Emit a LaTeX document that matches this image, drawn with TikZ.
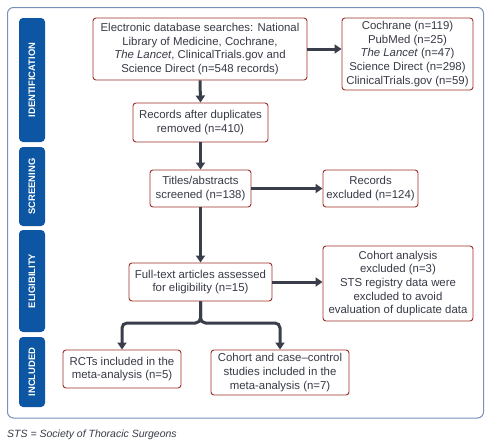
\documentclass[tikz,border=0pt]{standalone}
\usepackage{fontspec}
\setmainfont{Liberation Sans}
\usetikzlibrary{arrows.meta}
\definecolor{txt}{RGB}{55,58,70}
\definecolor{bred}{RGB}{158,48,42}
\definecolor{sideblue}{RGB}{12,86,164}
\definecolor{framec}{RGB}{120,145,185}
\definecolor{arr}{RGB}{58,62,74}
\begin{document}
\begin{tikzpicture}[x=1pt,y=-1pt,
 box/.style={draw=bred, line width=0.9pt, rounded corners=3pt, fill=white, text=txt, align=center, inner sep=0pt, font=\fontsize{11.4}{13.7}\selectfont},
 side/.style={fill=sideblue, rounded corners=4pt, text=white, rotate=90, inner sep=0pt, minimum height=26pt, font=\bfseries\fontsize{9.4}{12}\selectfont},
 flow/.style={draw=arr, line width=3pt, -{Triangle[length=7pt,width=9pt]}},
]
\useasboundingbox (0,0) rectangle (491,447);
\draw[framec, line width=1pt, rounded corners=6pt] (7.5,7.5) rectangle (483.5,418);

\node[side, minimum width=124pt] (s1) at (32,80) {IDENTIFICATION};
\node[side, minimum width=79pt] (s2) at (32,186.5) {SCREENING};
\node[side, minimum width=102pt] (s3) at (32,281) {ELIGIBILITY};
\node[side, minimum width=70pt] (s4) at (32,372) {INCLUDED};

\node[box, minimum width=214pt, minimum height=62pt] (b1) at (200,49)
 {Electronic database searches: National\\Library of Medicine, Cochrane,\\\textit{The Lancet}, ClinicalTrials.gov and\\Science Direct (n=548 records)};
\node[box, minimum width=131pt, minimum height=72pt] (b2) at (407.5,54)
 {Cochrane (n=119)\\PubMed (n=25)\\\textit{The Lancet} (n=47)\\Science Direct (n=298)\\ClinicalTrials.gov (n=59)};
\node[box, minimum width=135pt, minimum height=39pt] (b3) at (200.5,122.5)
 {Records after duplicates\\removed (n=410)};
\node[box, minimum width=101pt, minimum height=37pt] (b4) at (200.5,188.5)
 {Titles/abstracts\\screened (n=138)};
\node[box, minimum width=95pt, minimum height=37pt] (b5) at (370.5,188.5)
 {Records\\excluded (n=124)};
\node[box, minimum width=143pt, minimum height=38pt] (b6) at (200.5,282)
 {Full-text articles assessed\\for eligibility (n=15)};
\node[box, minimum width=150pt, minimum height=75pt] (b7) at (398,283.5)
 {Cohort analysis\\excluded (n=3)\\STS registry data were\\excluded to avoid\\evaluation of duplicate data};
\node[box, minimum width=118pt, minimum height=38pt] (b8) at (122,369)
 {RCTs included in the\\meta-analysis (n=5)};
\node[box, minimum width=138pt, minimum height=45pt] (b9) at (280,372.5)
 {Cohort and case--control\\studies included in the\\meta-analysis (n=7)};

\draw[flow] (b1.east) -- (b1.east -| b2.west);
\draw[flow] (b1.south) -- (b3.north);
\draw[flow] (b3.south) -- (b4.north);
\draw[flow] (b4.east) -- (b5.west);
\draw[flow] (b4.south) -- (b6.north);
\draw[flow] (b6.east) -- (b6.east -| b7.west);
\coordinate (j) at (200.5,323);
\draw[flow, rounded corners=5pt] (b6.south) -- (j) -| (b8.north);
\draw[flow, rounded corners=5pt] (b6.south) -- (j) -| (b9.north);

\node[anchor=west, font=\itshape\fontsize{10.5}{12}\selectfont, text=txt, inner sep=0pt] (cap) at (7,435) {STS = Society of Thoracic Surgeons};
\end{tikzpicture}
\end{document}
